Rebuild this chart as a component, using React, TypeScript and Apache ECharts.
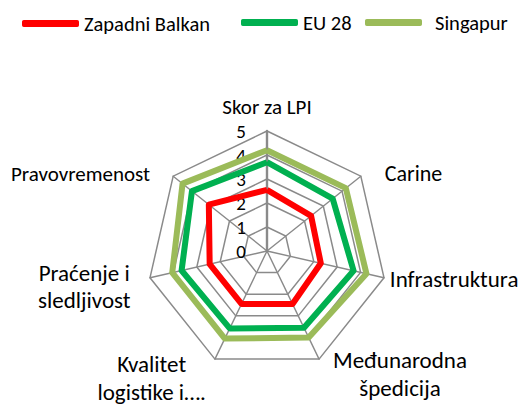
import React, { useEffect, useRef } from "react";
import * as echarts from "echarts";

const indicatorNames = [
  "Skor za LPI",
  "Carine",
  "Infrastruktura",
  "Međunarodna\nšpedicija",
  "Kvalitet\nlogistike i….",
  "Praćenje i\nsledljivost",
  "Pravovremenost",
];
const maxValue = 5;
const tickInterval = 1;
const seriesNames = ["Zapadni Balkan", "EU 28", "Singapur"];
const zapadniBalkan = [2.55, 2.35, 2.3, 2.45, 2.45, 2.45, 3.1];
const eu28 = [3.7, 3.5, 3.7, 3.55, 3.58, 3.65, 4.0];
const singapur = [4.2, 4.2, 4.25, 4.0, 4.05, 4.05, 4.5];
const seriesColors = ["#FF0000", "#00B050", "#9BBB59"];

const FONT = 'Carlito, Lato, "Open Sans", sans-serif';

// ECharts lays radar indicators counter-clockwise; the reference goes clockwise
const order = [0, 6, 5, 4, 3, 2, 1];

// per-indicator label styling (by original index)
const nameStyles = [
  { gap: 12, fontSize: 21, lineHeight: 24, padding: [0, 0, 0, 0], align: "center" },
  { gap: 5, fontSize: 22, lineHeight: 26, padding: [0, 0, 0, 20], align: "left" },
  { gap: 6, fontSize: 23, lineHeight: 26, padding: [0, 0, 0, 0], align: "left" },
  { gap: 16, fontSize: 23, lineHeight: 28, padding: [0, 0, 0, 7], align: "center" },
  { gap: 21, fontSize: 23, lineHeight: 28, padding: [0, 0, 0, 0], align: "center" },
  { gap: 20, fontSize: 23, lineHeight: 27, padding: [8, 0, 0, 0], align: "center" },
  { gap: 4, fontSize: 21, lineHeight: 24, padding: [0, 20, 0, 0], align: "right" },
];

export default function App() {
  const ref = useRef<HTMLDivElement>(null);
  useEffect(() => {
    if (!ref.current) return;
    const chart = echarts.init(ref.current, null, { renderer: "svg" });
    const rich: Record<string, any> = {};
    nameStyles.forEach((s, i) => {
      rich["n" + i] = {
        fontSize: s.fontSize,
        fontFamily: FONT,
        color: "#000",
        padding: s.padding,
        align: s.align,
        lineHeight: s.lineHeight,
      };
    });
    const indicator = order.map((i, k) => ({
      name: indicatorNames[i],
      min: 0,
      max: maxValue,
      nameGap: nameStyles[i].gap,
      axisLabel: { show: k === 0 },
      axisLine: { lineStyle: { width: k === 0 ? 2.4 : 1.4 } },
    }));
    const nameIndex: Record<string, number> = {};
    indicatorNames.forEach((n, i) => (nameIndex[n] = i));
    const all = [zapadniBalkan, eu28, singapur];
    const option: any = {
      animation: false,
      legend: seriesNames.map((n, i) => ({
        data: [n],
        left: [17, 236, 360][i],
        top: [8, 7, 7][i],
        itemWidth: 57,
        itemHeight: 7,
        itemGap: 4,
        icon: "roundRect",
        textStyle: {
          fontSize: 20.5,
          fontFamily: FONT,
          color: "#000",
          padding: i === 0 ? [13, 0, 0, 0] : i === 2 ? [5, 0, 0, 8] : [0, 0, 0, 0],
        },
        selectedMode: false,
      })),
      radar: {
        center: [267, 251],
        radius: 120,
        shape: "polygon",
        splitNumber: 5,
        indicator,
        axisName: {
          formatter: (name: string) => {
            const i = nameIndex[name];
            return name
              .split("\n")
              .map((l) => `{n${i}|${l}}`)
              .join("\n");
          },
          rich,
        },
        axisLine: { lineStyle: { color: "#8a8a8a", width: 1.4 } },
        splitLine: { lineStyle: { color: "#8a8a8a", width: 1.5 } },
        splitArea: { show: false },
        axisTick: { show: false },
        axisLabel: {
          show: false,
          fontSize: 19,
          fontFamily: FONT,
          color: "#000",
          margin: 21,
          interval: tickInterval,
        },
      },
      series: [
        {
          type: "radar",
          symbol: "none",
          data: all.map((arr, s) => ({
            name: seriesNames[s],
            value: order.map((i) => arr[i]),
            lineStyle: { color: seriesColors[s], width: 6 },
            itemStyle: { color: seriesColors[s] },
          })),
        },
      ],
    };
    chart.setOption(option);
    return () => chart.dispose();
  }, []);
  return (
    <div
      ref={ref}
      style={{ position: "fixed", left: 0, top: 0, width: 525, height: 409, background: "#fff" }}
    />
  );
}
